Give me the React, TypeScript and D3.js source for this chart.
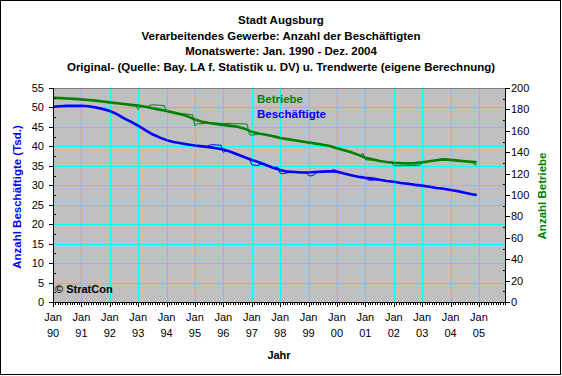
import React from "react";
import * as d3 from "d3";

const titleLines = [
  "Stadt Augsburg",
  "Verarbeitendes Gewerbe: Anzahl der Beschäftigten",
  "Monatswerte: Jan. 1990 - Dez. 2004",
  "Original- (Quelle: Bay. LA f. Statistik u. DV) u. Trendwerte (eigene Berechnung)",
];
const yearLabels = ["90","91","92","93","94","95","96","97","98","99","00","01","02","03","04","05"];
const leftTicks = [0,5,10,15,20,25,30,35,40,45,50,55];
const rightTicks = [0,20,40,60,80,100,120,140,160,180,200];

// Trend values, quarterly (Jan, Apr, Jul, Oct) 1990-2004 plus Dec 2004
const trendMonths = [
  0,3,6,9, 12,15,18,21, 24,27,30,33, 36,39,42,45, 48,51,54,57,
  60,63,66,69, 72,75,78,81, 84,87,90,93, 96,99,102,105, 108,111,114,117,
  120,123,126,129, 132,135,138,141, 144,147,150,153, 156,159,162,165, 168,171,174,177, 179,
];
const beschTrend = [
  50.2,50.3,50.4,50.4, 50.45,50.3,50.0,49.6, 49.1,48.3,47.2,46.3, 45.3,44.2,43.1,42.3,
  41.6,41.1,40.8,40.5, 40.2,40.0,39.8,39.5, 39.2,38.6,37.9,37.2, 36.5,35.9,35.2,34.5,
  33.9,33.5,33.4,33.3, 33.3,33.4,33.5,33.6, 33.5,33.0,32.6,32.2, 31.9,31.7,31.4,31.1,
  30.9,30.6,30.4,30.1, 29.9,29.6,29.3,29.1, 28.8,28.5,28.1,27.7, 27.5,
];
const betrTrend = [
  190.9,190.5,190.2,189.8, 189.4,188.8,188.2,187.4, 186.6,185.8,185.0,184.2, 183.5,182.5,181.0,179.8,
  178.5,177.0,175.4,173.5, 170.5,168.5,167.3,166.5, 165.4,164.6,163.8,162.0, 159.0,157.5,156.3,155.0,
  153.2,152.2,151.2,150.0, 149.0,148.0,147.0,145.8, 143.6,141.8,140.0,137.5, 134.9,133.3,131.8,130.9,
  130.2,129.8,129.6,129.8, 130.5,131.5,132.5,133.3, 132.8,132.1,131.5,131.0, 130.5,
];

// Original monthly values Jan 1990 - Dec 2004
const beschOrig = [
  50.1,50.2,50.2,50.3,50.3,50.4,50.4,50.4,50.4,50.4,50.5,50.4,
  50.5,50.4,50.4,50.3,50.3,50.2,50.1,50.0,49.9,49.8,49.6,49.4,
  49.2,48.9,48.6,48.4,48.1,47.7,47.3,47.0,46.7,46.5,46.1,45.8,
  45.4,45.0,44.6,44.3,43.9,43.5,43.2,42.9,42.6,42.3,42.0,41.8,
  41.6,41.4,41.3,41.1,41.0,40.9,40.8,40.7,40.6,40.5,40.4,40.3,
  40.2,40.1,40.1,40.0,40.0,39.9,40.3,40.4,40.4,40.4,40.3,40.3,
  38.4,38.9,38.9,38.7,38.4,38.1,37.9,37.6,37.4,37.2,37.0,36.8,
  35.3,35.2,35.1,35.2,35.4,35.3,35.2,35.0,34.6,34.5,34.7,34.6,
  33.1,33.0,33.1,33.2,33.4,33.4,33.4,33.3,33.3,33.3,33.3,33.3,
  32.5,32.4,32.6,33.0,33.4,33.5,33.5,33.6,33.6,33.7,33.9,34.0,
  33.6,33.4,33.2,33.0,32.9,32.7,32.6,32.5,32.3,32.2,32.1,32.0,
  32.0,31.4,31.3,31.3,31.4,31.4,31.4,31.3,31.2,31.1,31.0,30.9,
  30.9,30.8,30.7,30.6,30.5,30.4,30.4,30.3,30.2,30.1,30.0,30.0,
  29.9,29.8,29.7,29.6,29.5,29.4,29.3,29.2,29.2,29.1,29.0,28.9,
  28.8,28.7,28.6,28.5,28.4,28.3,28.1,28.0,27.9,27.7,27.6,27.5,
];
const betrOrig = [
  191.0,190.8,190.7,190.5,190.4,190.3,190.2,190.1,189.9,189.8,189.7,189.5,
  189.4,189.2,189.0,188.8,188.6,188.4,188.2,188.0,187.7,187.4,187.2,186.9,
  186.6,186.3,186.0,185.8,185.5,185.3,185.0,184.7,184.5,184.2,184.0,183.8,
  180.0,183.3,183.0,182.6,182.2,184.0,184.2,184.2,184.0,183.9,183.7,183.5,
  177.8,177.5,177.0,176.6,176.2,175.8,175.4,176.0,175.8,175.5,175.2,175.0,
  164.5,166.8,166.6,166.6,167.2,167.2,167.1,167.1,167.0,167.0,166.9,166.9,
  166.9,166.8,166.8,166.7,166.7,166.6,166.6,166.5,166.5,166.4,166.3,156.5,
  156.0,156.2,156.5,157.0,156.8,156.5,156.3,156.0,155.7,155.4,155.0,154.6,
  153.2,152.9,152.6,152.3,152.0,151.8,151.5,151.2,150.9,150.6,150.3,150.0,
  148.0,149.5,148.8,148.3,148.0,147.6,147.2,146.8,146.3,145.8,145.2,144.5,
  143.5,143.0,142.4,141.8,141.2,140.6,140.0,139.3,138.5,137.6,137.0,139.0,
  133.0,132.8,132.6,132.8,133.3,132.7,132.2,131.8,131.5,131.2,131.0,130.7,
  127.5,127.4,127.4,127.3,127.3,127.4,127.4,127.5,127.5,127.6,127.6,127.8,
  130.4,130.8,131.2,131.6,132.0,132.4,132.8,133.2,133.6,133.8,133.5,133.0,
  132.8,132.6,132.3,132.1,131.9,131.7,131.5,131.3,131.1,130.9,128.5,128.0,
];

const FONT = "'Liberation Sans', Arial, sans-serif";
const BLUE = "#0000FF";
const GREEN = "#008000";

export default function App() {
  const W = 562, H = 376;
  const left = 53, right = 505, top = 88, bottom = 302;
  const x = d3.scaleLinear().domain([0, 191]).range([left, right]);
  const yL = d3.scaleLinear().domain([0, 55]).range([bottom, top]);
  const yR = d3.scaleLinear().domain([0, 200]).range([bottom, top]);

  const lineL = d3.line<[number, number]>().x(d => x(d[0])).y(d => yL(d[1]));
  const lineR = d3.line<[number, number]>().x(d => x(d[0])).y(d => yR(d[1]));

  const bTrend = trendMonths.map((m, i) => [m, beschTrend[i]] as [number, number]);
  const gTrend = trendMonths.map((m, i) => [m, betrTrend[i]] as [number, number]);
  const bOrig = beschOrig.map((v, i) => [i, v] as [number, number]);
  const gOrig = betrOrig.map((v, i) => [i, v] as [number, number]);

  const yearMonths = yearLabels.map((_, i) => i * 12);
  const minorMonths = d3.range(0, 192);
  const leftMinor = d3.range(2.5, 55, 5);
  const rightMinor = d3.range(10, 200, 20);
  const px = (v: number) => Math.round(v) + 0.5;

  return (
    <svg width={W} height={H} style={{ position: "absolute", left: 0, top: 0, background: "#fff" }}>
      <rect x={0.5} y={0.5} width={W - 2} height={H - 2} fill="#fff" stroke="#000" />
      {titleLines.map((t, i) => (
        <text key={i} x={281} y={24 + i * 15.7} textAnchor="middle" fontFamily={FONT} fontWeight="bold" fontSize={11.5}>{t}</text>
      ))}
      <rect x={left} y={top} width={right - left} height={bottom - top} fill="#C0C0C0" />
      <g shapeRendering="crispEdges">
        {leftTicks.slice(1, -1).map(v => (
          <line key={"h" + v} x1={left} x2={right} y1={px(yL(v))} y2={px(yL(v))} stroke="#00FFFF" />
        ))}
        {yearMonths.slice(1).map(m => (
          <line key={"v" + m} x1={px(x(m))} x2={px(x(m))} y1={top} y2={bottom} stroke="#00FFFF" />
        ))}
        <line x1={left} x2={right} y1={top + 0.5} y2={top + 0.5} stroke="#808080" />
      </g>
      {/* data */}
      <path d={lineR(gOrig) || ""} fill="none" stroke={GREEN} strokeWidth={1} />
      <path d={lineR(gTrend) || ""} fill="none" stroke={GREEN} strokeWidth={2.6} />
      <path d={lineL(bOrig) || ""} fill="none" stroke={BLUE} strokeWidth={1} />
      <path d={lineL(bTrend) || ""} fill="none" stroke={BLUE} strokeWidth={2.6} />
      {/* axes */}
      <g shapeRendering="crispEdges">
        <line x1={left + 0.5} x2={left + 0.5} y1={top} y2={bottom + 1} stroke="#000" />
        <line x1={right + 0.5} x2={right + 0.5} y1={top} y2={bottom + 1} stroke="#000" />
        <line x1={left} x2={right + 1} y1={bottom + 0.5} y2={bottom + 0.5} stroke="#000" />
        {leftTicks.map(v => (
          <line key={"lt" + v} x1={left - 4} x2={left} y1={px(yL(v))} y2={px(yL(v))} stroke="#000" />
        ))}
        {leftMinor.map(v => (
          <line key={"lm" + v} x1={left} x2={left + 3} y1={px(yL(v))} y2={px(yL(v))} stroke="#000" />
        ))}
        {rightTicks.map(v => (
          <line key={"rt" + v} x1={right} x2={right + 5} y1={px(yR(v))} y2={px(yR(v))} stroke="#000" />
        ))}
        {rightMinor.map(v => (
          <line key={"rm" + v} x1={right - 2} x2={right} y1={px(yR(v))} y2={px(yR(v))} stroke="#000" />
        ))}
        {minorMonths.map(m => (
          <line key={"xm" + m} x1={px(x(m))} x2={px(x(m))} y1={bottom} y2={bottom + 3} stroke="#000" />
        ))}
        {yearMonths.map(m => (
          <line key={"xt" + m} x1={px(x(m))} x2={px(x(m))} y1={bottom} y2={bottom + 5} stroke="#000" />
        ))}
      </g>
      {leftTicks.map(v => (
        <text key={"ltl" + v} x={44} y={yL(v) + 4} textAnchor="end" fontFamily={FONT} fontSize={11}>{v}</text>
      ))}
      {rightTicks.map(v => (
        <text key={"rtl" + v} x={511} y={yR(v) + 4} textAnchor="start" fontFamily={FONT} fontSize={11}>{v}</text>
      ))}
      {yearMonths.map((m, i) => (
        <g key={"xl" + m}>
          <text x={x(m)} y={321} textAnchor="middle" fontFamily={FONT} fontSize={11}>Jan</text>
          <text x={x(m)} y={337} textAnchor="middle" fontFamily={FONT} fontSize={11}>{yearLabels[i]}</text>
        </g>
      ))}
      <text x={279} y={359} textAnchor="middle" fontFamily={FONT} fontWeight="bold" fontSize={11}>Jahr</text>
      <text transform="translate(21,197) rotate(-90)" textAnchor="middle" fontFamily={FONT} fontWeight="bold" fontSize={11.5} fill={BLUE}>Anzahl Beschäftigte (Tsd.)</text>
      <text transform="translate(546,196) rotate(-90)" textAnchor="middle" fontFamily={FONT} fontWeight="bold" fontSize={11.5} fill={GREEN}>Anzahl Betriebe</text>
      <text x={257} y={103} fontFamily={FONT} fontWeight="bold" fontSize={11.5} fill={GREEN}>Betriebe</text>
      <text x={257} y={118} fontFamily={FONT} fontWeight="bold" fontSize={11.5} fill={BLUE}>Beschäftigte</text>
      <text x={55} y={293} fontFamily={FONT} fontWeight="bold" fontSize={11} fill="#000">© StratCon</text>
    </svg>
  );
}
